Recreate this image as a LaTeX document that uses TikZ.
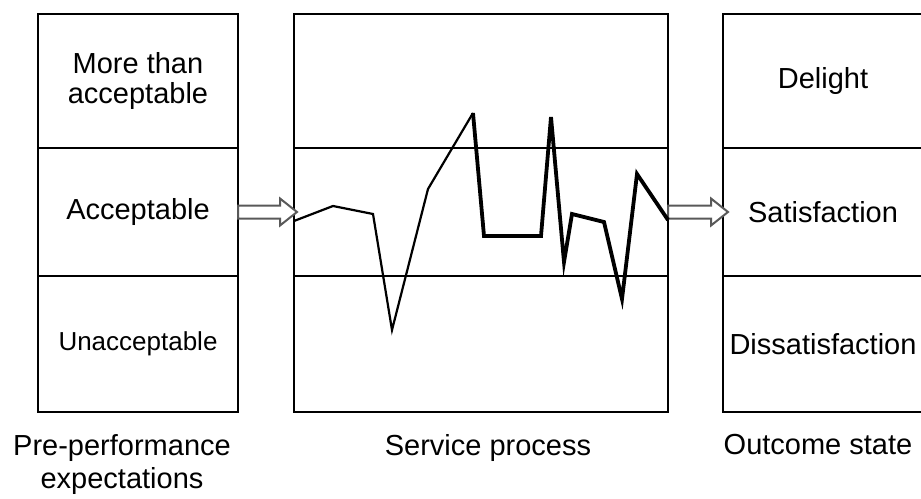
\documentclass[tikz,border=0pt]{standalone}
\usepackage{fontspec}
\setmainfont{Liberation Sans}
\usetikzlibrary{positioning}
\usetikzlibrary{calc}
\tikzset{
  band/.style={draw, line width=1pt, minimum width=100pt, outer sep=0pt, inner sep=0pt, align=center, font=\fontsize{14.5}{15}\selectfont},
  caption/.style={inner sep=0pt, align=center, font=\fontsize{14.5}{16.5}\selectfont},
  flow/.style={draw=black!65, fill=white, line width=1pt, line join=miter},
  trace/.style={line width=1.1pt, line join=miter},
}
% block arrow from #1 to the tip #2
\newcommand{\hollowarrow}[2]{%
\draw[flow] ($(#1)+(0,-6.5)$) -- ($(#2)+(-17,-6.5)$) -- ($(#2)+(-17,-13.5)$) -- (#2)
  -- ($(#2)+(-17,13.5)$) -- ($(#2)+(-17,6.5)$) -- ($(#1)+(0,6.5)$) -- cycle;
}
\begin{document}
\begin{tikzpicture}[x=0.5pt, y=-0.5pt]
\useasboundingbox (0,0) rectangle (921,498);
% expectations
\node[band, minimum height=67pt, anchor=north west] (more) at (38,14) {More than\\acceptable};
\node[band, minimum height=64pt, below=0pt of more] (acc) {Acceptable};
\node[band, minimum height=68pt, below=0pt of acc, font=\fontsize{13}{15}\selectfont] (unacc) {Unacceptable};
% service process
\node[band, minimum width=187pt, minimum height=67pt, right=28pt of more] (proc1) {};
\node[band, minimum width=187pt, minimum height=64pt, below=0pt of proc1] (proc2) {};
\node[band, minimum width=187pt, minimum height=68pt, below=0pt of proc2] (proc3) {};
% outcome
\node[band, minimum height=67pt, right=27.5pt of proc1] (delight) {Delight};
\node[band, minimum height=64pt, below=0pt of delight] (sat) {Satisfaction};
\node[band, minimum height=68pt, below=0pt of sat] (dissat) {Dissatisfaction};
% arrows
\hollowarrow{acc.east}{$(proc2.west)+(3,0)$}
\hollowarrow{proc2.east}{$(sat.west)+(5,0)$}
% performance trace
\draw[trace] (294,221) -- (333,206) -- (373,214) -- (392,330) -- (428,189) -- (473,113);
\draw[trace, line width=1.9pt] (473,113) -- (484,236) -- (541,236) -- (551,117) -- (564,262)
  -- (572,214) -- (604,222) -- (622,299) -- (637,174) -- (668,220);
% captions
\node[caption, anchor=north] (precap) at (122,434) {Pre-performance\\expectations};
\node[caption, anchor=north] (proccap) at (488,434) {Service process};
\node[caption, anchor=north] (outcap) at (818,434) {Outcome state};
\end{tikzpicture}
\end{document}
